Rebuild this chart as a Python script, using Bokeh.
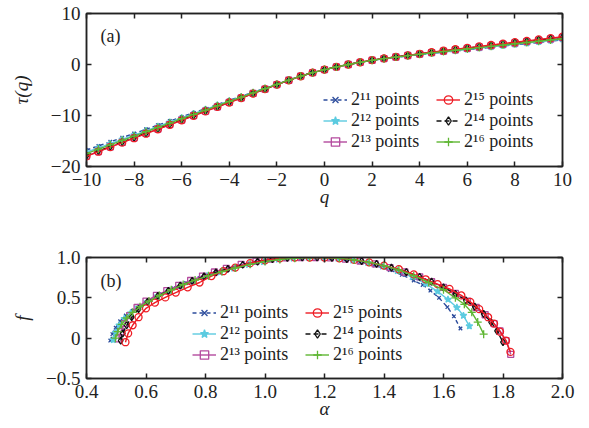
from bokeh.plotting import figure
from bokeh.models import (Range1d, LinearAxis, FixedTicker, CustomJSTickFormatter,
                          Legend, LegendItem, Label)
from bokeh.layouts import column
from bokeh.embed import file_html
from bokeh.resources import INLINE

# ---------------- data ----------------
q = [-10, -9.5, -9, -8.5, -8, -7.5, -7, -6.5, -6, -5.5, -5, -4.5, -4, -3.5, -3, -2.5, -2, -1.5, -1, -0.5,
     0, 0.5, 1, 1.5, 2, 2.5, 3, 3.5, 4, 4.5, 5, 5.5, 6, 6.5, 7, 7.5, 8, 8.5, 9, 9.5, 10]

tau_2_11 = [-16.78, -15.97, -15.15, -14.34, -13.52, -12.71, -11.89, -11.08, -10.27, -9.46, -8.65, -7.85, -7.04,
            -6.24, -5.44, -4.65, -3.85, -3.06, -2.27, -1.60, -1.00, -0.48, 0.00, 0.42, 0.79, 1.11, 1.40, 1.67,
            1.92, 2.17, 2.41, 2.65, 2.89, 3.13, 3.37, 3.61, 3.85, 4.09, 4.33, 4.57, 4.81]
tau_2_12 = [-17.20, -16.36, -15.52, -14.68, -13.84, -13.00, -12.16, -11.33, -10.49, -9.66, -8.82, -7.99, -7.16,
            -6.34, -5.51, -4.70, -3.88, -3.07, -2.28, -1.60, -1.00, -0.48, 0.00, 0.42, 0.80, 1.13, 1.42, 1.69,
            1.95, 2.21, 2.46, 2.71, 2.96, 3.21, 3.46, 3.71, 3.96, 4.21, 4.46, 4.71, 4.96]
tau_2_13 = [-17.95, -17.06, -16.16, -15.28, -14.40, -13.52, -12.65, -11.77, -10.90, -10.03, -9.16, -8.29, -7.42,
            -6.55, -5.68, -4.81, -3.94, -3.09, -2.29, -1.60, -1.00, -0.47, 0.00, 0.43, 0.83, 1.17, 1.47, 1.76,
            2.05, 2.33, 2.61, 2.89, 3.16, 3.43, 3.70, 3.96, 4.22, 4.48, 4.74, 5.00, 5.26]
tau_2_14 = [-17.85, -16.96, -16.07, -15.19, -14.31, -13.44, -12.57, -11.70, -10.83, -9.97, -9.11, -8.25, -7.39,
            -6.53, -5.67, -4.81, -3.94, -3.09, -2.29, -1.60, -1.00, -0.47, 0.00, 0.44, 0.84, 1.18, 1.49, 1.78,
            2.07, 2.36, 2.65, 2.93, 3.21, 3.48, 3.75, 4.02, 4.29, 4.55, 4.81, 5.07, 5.33]
tau_2_15 = [-18.00, -17.10, -16.20, -15.32, -14.45, -13.57, -12.70, -11.82, -10.95, -10.07, -9.20, -8.32, -7.45,
            -6.57, -5.70, -4.82, -3.95, -3.10, -2.30, -1.60, -1.00, -0.47, 0.00, 0.44, 0.85, 1.19, 1.50, 1.80,
            2.10, 2.40, 2.70, 2.99, 3.27, 3.55, 3.82, 4.10, 4.37, 4.64, 4.91, 5.18, 5.45]
tau_2_16 = [-17.47, -16.61, -15.75, -14.89, -14.04, -13.18, -12.33, -11.48, -10.63, -9.78, -8.93, -8.08, -7.24,
            -6.40, -5.56, -4.73, -3.90, -3.07, -2.28, -1.60, -1.00, -0.48, 0.00, 0.43, 0.82, 1.15, 1.45, 1.73,
            2.00, 2.27, 2.53, 2.79, 3.05, 3.31, 3.56, 3.81, 4.06, 4.31, 4.56, 4.81, 5.06]

alpha_2_11 = [0.48, 0.487, 0.498, 0.513, 0.532, 0.555, 0.583, 0.615, 0.652, 0.692, 0.735, 0.78, 0.825, 0.87,
              0.92, 0.97, 1.02, 1.07, 1.12, 1.17, 1.22, 1.27, 1.32, 1.37, 1.42, 1.46, 1.50, 1.53, 1.556, 1.585,
              1.613, 1.635, 1.657]
f_2_11 = [-0.03, 0.05, 0.13, 0.21, 0.28, 0.34, 0.40, 0.47, 0.545, 0.62, 0.685, 0.745, 0.80, 0.85, 0.895, 0.935,
          0.965, 0.985, 0.997, 1.0, 0.995, 0.975, 0.945, 0.90, 0.845, 0.785, 0.715, 0.66, 0.59, 0.50, 0.385,
          0.27, 0.12]
alpha_2_12 = [0.49, 0.498, 0.51, 0.527, 0.548, 0.573, 0.603, 0.638, 0.678, 0.72, 0.76, 0.805, 0.85, 0.895,
              0.945, 0.995, 1.045, 1.095, 1.145, 1.195, 1.245, 1.295, 1.345, 1.395, 1.445, 1.495, 1.54, 1.58,
              1.615, 1.645, 1.667, 1.687]
f_2_12 = [-0.02, 0.07, 0.16, 0.24, 0.31, 0.38, 0.45, 0.52, 0.59, 0.655, 0.71, 0.77, 0.82, 0.865, 0.91, 0.945,
          0.975, 0.99, 1.0, 1.0, 0.99, 0.965, 0.935, 0.89, 0.835, 0.76, 0.675, 0.58, 0.48, 0.38, 0.28, 0.15]
alpha_2_13 = [0.508, 0.515, 0.528, 0.545, 0.57, 0.60, 0.635, 0.67, 0.71, 0.75, 0.79, 0.83, 0.87, 0.92, 0.97,
              1.02, 1.07, 1.12, 1.17, 1.22, 1.27, 1.32, 1.37, 1.42, 1.47, 1.52, 1.56, 1.60, 1.64, 1.68, 1.71,
              1.74, 1.77, 1.79, 1.81, 1.826]
f_2_13 = [-0.01, 0.08, 0.18, 0.28, 0.38, 0.46, 0.53, 0.59, 0.655, 0.715, 0.77, 0.82, 0.865, 0.915, 0.955, 0.98,
          0.995, 1.0, 1.0, 0.995, 0.98, 0.955, 0.92, 0.875, 0.82, 0.76, 0.70, 0.63, 0.555, 0.46, 0.38, 0.29,
          0.18, 0.09, -0.03, -0.20]
alpha_2_14 = [0.515, 0.522, 0.535, 0.552, 0.575, 0.605, 0.64, 0.675, 0.715, 0.755, 0.795, 0.835, 0.875, 0.925,
              0.975, 1.025, 1.075, 1.125, 1.175, 1.225, 1.275, 1.325, 1.375, 1.425, 1.475, 1.52, 1.56, 1.60,
              1.64, 1.675, 1.705, 1.735, 1.76, 1.78, 1.80]
f_2_14 = [-0.03, 0.06, 0.16, 0.26, 0.36, 0.45, 0.525, 0.585, 0.65, 0.71, 0.765, 0.815, 0.86, 0.91, 0.95, 0.98,
          0.995, 1.0, 1.0, 0.995, 0.98, 0.955, 0.92, 0.875, 0.82, 0.76, 0.70, 0.63, 0.55, 0.47, 0.39, 0.30,
          0.20, 0.09, -0.05]
alpha_2_15 = [0.531, 0.54, 0.555, 0.575, 0.60, 0.63, 0.665, 0.70, 0.74, 0.78, 0.82, 0.86, 0.90, 0.95, 1.00,
              1.05, 1.10, 1.15, 1.20, 1.25, 1.30, 1.35, 1.40, 1.45, 1.50, 1.54, 1.58, 1.62, 1.66, 1.69, 1.72,
              1.75, 1.77, 1.79, 1.81, 1.825]
f_2_15 = [-0.05, 0.06, 0.16, 0.26, 0.37, 0.44, 0.505, 0.565, 0.63, 0.69, 0.77, 0.83, 0.875, 0.93, 0.965, 0.99,
          1.0, 1.0, 1.0, 0.99, 0.97, 0.94, 0.90, 0.855, 0.79, 0.73, 0.67, 0.61, 0.53, 0.45, 0.36, 0.26, 0.18,
          0.08, -0.03, -0.17]
alpha_2_16 = [0.497, 0.505, 0.518, 0.535, 0.555, 0.58, 0.61, 0.645, 0.685, 0.725, 0.765, 0.81, 0.855, 0.90,
              0.95, 1.00, 1.05, 1.10, 1.15, 1.20, 1.25, 1.30, 1.35, 1.40, 1.45, 1.50, 1.55, 1.60, 1.64, 1.67,
              1.695, 1.715, 1.735]
f_2_16 = [0.0, 0.08, 0.17, 0.25, 0.32, 0.39, 0.46, 0.53, 0.60, 0.665, 0.72, 0.775, 0.825, 0.87, 0.915, 0.95,
          0.975, 0.99, 1.0, 1.0, 0.99, 0.97, 0.94, 0.90, 0.845, 0.775, 0.69, 0.60, 0.50, 0.42, 0.32, 0.20, 0.05]

labels = ["2¹¹ points", "2¹² points", "2¹³ points", "2¹⁴ points", "2¹⁵ points", "2¹⁶ points"]

q_ticks = [-10, -8, -6, -4, -2, 0, 2, 4, 6, 8, 10]
tau_ticks = [-20, -10, 0, 10]
alpha_ticks = [0.4, 0.6, 0.8, 1.0, 1.2, 1.4, 1.6, 1.8, 2.0]
f_ticks = [-0.5, 0, 0.5, 1.0]

# ---------------- styles ----------------
FONT = "Liberation Serif"
INK = "#222222"
styles = {
    "2¹¹ points": dict(color="#2c4c9c", dash="4 3", marker="x", size=5, fill=None),
    "2¹² points": dict(color="#5ccbe0", dash="solid", marker="star", size=7, fill="#5ccbe0"),
    "2¹³ points": dict(color="#b44a9e", dash="solid", marker="square", size=6, fill=None),
    "2¹⁴ points": dict(color="#111111", dash="5 3", marker="diamond", size=7, fill=None),
    "2¹⁵ points": dict(color="#ee1c24", dash="solid", marker="circle", size=7, fill=None),
    "2¹⁶ points": dict(color="#5fb633", dash="solid", marker="cross", size=8, fill=None),
}
draw_order = [0, 1, 2, 3, 4, 5]

INT_FMT = "return tick < 0 ? '\u2212' + (-tick) : '' + tick;"
F_FMT = "if (tick == 0) { return '0'; } var s = Math.abs(tick).toFixed(1); return tick < 0 ? '\u2212' + s : s;"
A_FMT = "return tick.toFixed(1);"
NO_FMT = "return '';"


def style_axis(ax, ticks, code, labels_on=True):
    ax.ticker = FixedTicker(ticks=ticks)
    ax.major_tick_in = 5
    ax.major_tick_out = 0
    ax.minor_tick_line_color = None
    ax.axis_line_color = INK
    ax.axis_line_width = 1.5
    ax.major_tick_line_color = INK
    ax.major_tick_line_width = 1.5
    ax.major_label_text_font = FONT
    ax.major_label_text_color = INK
    if labels_on:
        ax.formatter = CustomJSTickFormatter(code=code)
        ax.major_label_text_font_size = "19px"
        ax.major_label_standoff = 6
    else:
        ax.formatter = CustomJSTickFormatter(code=NO_FMT)
        ax.major_label_text_font_size = "1px"
        ax.major_label_standoff = 0


def make_panel(height, top, bottom, xr, yr, xt, yt, xfmt, yfmt, xlabel, ylabel, ylab_standoff):
    p = figure(width=582, height=height, x_range=Range1d(*xr), y_range=Range1d(*yr),
               output_backend="svg", toolbar_location=None,
               min_border_left=86, min_border_right=20, min_border_top=top, min_border_bottom=bottom)
    p.xgrid.visible = False
    p.ygrid.visible = False
    p.outline_line_color = INK
    p.outline_line_width = 1.5
    style_axis(p.below[0], xt, xfmt)
    style_axis(p.left[0], yt, yfmt)
    for ax, lab in ((p.below[0], xlabel), (p.left[0], ylabel)):
        ax.axis_label = lab
        ax.axis_label_text_font = FONT
        ax.axis_label_text_font_style = "italic"
        ax.axis_label_text_font_size = "19px"
        ax.axis_label_text_color = INK
    p.below[0].axis_label_standoff = -3
    p.left[0].axis_label_standoff = ylab_standoff
    top_ax = LinearAxis()
    style_axis(top_ax, xt, xfmt, labels_on=False)
    p.add_layout(top_ax, "above")
    right_ax = LinearAxis()
    style_axis(right_ax, yt, yfmt, labels_on=False)
    p.add_layout(right_ax, "right")
    return p


def add_series(p, xs_list, ys_list, leg_loc1, leg_loc2):
    rends = {}
    for i in draw_order:
        lab = labels[i]
        st = styles[lab]
        xs, ys = xs_list[i], ys_list[i]
        fill = st["fill"] if st["fill"] else "white"
        falpha = 1.0 if st["fill"] else 0.0
        rl = p.line(xs, ys, line_color=st["color"], line_width=1.4, line_dash=st["dash"])
        rs = p.scatter(xs, ys, marker=st["marker"], size=st["size"], line_color=st["color"],
                       line_width=1.3, fill_color=fill, fill_alpha=falpha)
        rends[lab] = [rl, rs]
    col1 = [labels[0], labels[1], labels[2]]
    col2 = [labels[4], labels[3], labels[5]]
    for cols, loc in ((col1, leg_loc1), (col2, leg_loc2)):
        leg = Legend(items=[LegendItem(label=l, renderers=rends[l]) for l in cols],
                     location=loc, orientation="vertical", padding=0, margin=0, spacing=0,
                     glyph_width=24, glyph_height=21, label_height=21, label_standoff=4,
                     label_text_font=FONT, label_text_font_size="18px", label_text_color=INK,
                     border_line_color=None, background_fill_alpha=0.0)
        p.add_layout(leg)


p1 = make_panel(214, 13, 48, (-10, 10), (-20, 10), q_ticks, tau_ticks, INT_FMT, INT_FMT, "q", "τ(q)", 16)
add_series(p1, [q] * 6, [tau_2_11, tau_2_12, tau_2_13, tau_2_14, tau_2_15, tau_2_16], (237, 14), (350, 14))
p1.add_layout(Label(x=14, y=131, x_units="screen", y_units="screen", text="(a)", text_font=FONT,
                    text_font_size="18px", text_color=INK, text_baseline="middle"))

p2 = make_panel(213, 43, 49, (0.4, 2.0), (-0.5, 1.0), alpha_ticks, f_ticks, A_FMT, F_FMT, "α", "f", 10)
add_series(p2, [alpha_2_11, alpha_2_12, alpha_2_13, alpha_2_14, alpha_2_15, alpha_2_16],
           [f_2_11, f_2_12, f_2_13, f_2_14, f_2_15, f_2_16], (106, 13), (219, 13))
p2.add_layout(Label(x=14, y=98, x_units="screen", y_units="screen", text="(b)", text_font=FONT,
                    text_font_size="18px", text_color=INK, text_baseline="middle"))

layout = column(p1, p2, spacing=0)
open("out.html", "w").write(file_html(layout, INLINE))
